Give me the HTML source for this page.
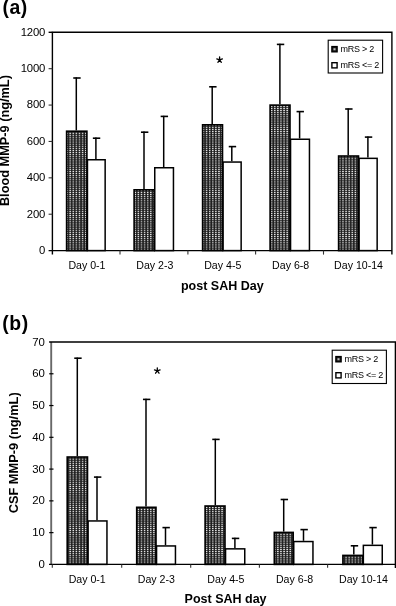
<!DOCTYPE html>
<html><head><meta charset="utf-8"><title>chart</title>
<style>html,body{margin:0;padding:0;background:#fff;}body{width:396px;height:606px;overflow:hidden;}svg{display:block;will-change:transform;filter:grayscale(1);}text{font-family:"Liberation Sans",sans-serif;fill:#000;}</style>
</head><body>
<svg width="396" height="606" viewBox="0 0 396 606">
<defs>
<pattern id="dots" x="0.4" y="0.3" width="3.1" height="2.1" patternUnits="userSpaceOnUse"><rect x="0" y="0" width="3.1" height="2.1" fill="#1e1e1e"/><rect x="0.8" y="0.55" width="1.6" height="1.0" fill="#f0f0f0"/></pattern>
</defs>
<rect x="0" y="0" width="396" height="606" fill="#fff"/>
<line x1="76.30" y1="77.40" x2="76.30" y2="130.40" stroke="#000" stroke-width="1.5"/>
<line x1="73.25" y1="78.00" x2="80.65" y2="78.00" stroke="#000" stroke-width="1.6"/>
<line x1="95.90" y1="137.60" x2="95.90" y2="159.00" stroke="#000" stroke-width="1.5"/>
<line x1="92.85" y1="138.20" x2="100.25" y2="138.20" stroke="#000" stroke-width="1.6"/>
<rect x="87.45" y="159.75" width="17.70" height="90.85" fill="#fff" stroke="#000" stroke-width="1.5"/>
<rect x="66.60" y="131.20" width="20.30" height="119.40" fill="url(#dots)" stroke="#000" stroke-width="1.6"/>
<line x1="144.00" y1="131.60" x2="144.00" y2="189.00" stroke="#000" stroke-width="1.5"/>
<line x1="140.95" y1="132.20" x2="148.35" y2="132.20" stroke="#000" stroke-width="1.6"/>
<line x1="163.70" y1="115.80" x2="163.70" y2="167.00" stroke="#000" stroke-width="1.5"/>
<line x1="160.65" y1="116.40" x2="168.05" y2="116.40" stroke="#000" stroke-width="1.6"/>
<rect x="154.75" y="167.75" width="18.70" height="82.85" fill="#fff" stroke="#000" stroke-width="1.5"/>
<rect x="134.10" y="189.80" width="20.10" height="60.80" fill="url(#dots)" stroke="#000" stroke-width="1.6"/>
<line x1="212.20" y1="86.20" x2="212.20" y2="124.00" stroke="#000" stroke-width="1.5"/>
<line x1="209.15" y1="86.80" x2="216.55" y2="86.80" stroke="#000" stroke-width="1.6"/>
<line x1="231.80" y1="146.00" x2="231.80" y2="161.30" stroke="#000" stroke-width="1.5"/>
<line x1="228.75" y1="146.60" x2="236.15" y2="146.60" stroke="#000" stroke-width="1.6"/>
<rect x="223.05" y="162.05" width="18.10" height="88.55" fill="#fff" stroke="#000" stroke-width="1.5"/>
<rect x="202.60" y="124.80" width="19.90" height="125.80" fill="url(#dots)" stroke="#000" stroke-width="1.6"/>
<line x1="279.90" y1="43.80" x2="279.90" y2="104.30" stroke="#000" stroke-width="1.5"/>
<line x1="276.85" y1="44.40" x2="284.25" y2="44.40" stroke="#000" stroke-width="1.6"/>
<line x1="299.60" y1="111.00" x2="299.60" y2="138.50" stroke="#000" stroke-width="1.5"/>
<line x1="296.55" y1="111.60" x2="303.95" y2="111.60" stroke="#000" stroke-width="1.6"/>
<rect x="290.55" y="139.25" width="18.90" height="111.35" fill="#fff" stroke="#000" stroke-width="1.5"/>
<rect x="270.10" y="105.10" width="19.90" height="145.50" fill="url(#dots)" stroke="#000" stroke-width="1.6"/>
<line x1="348.20" y1="108.40" x2="348.20" y2="155.20" stroke="#000" stroke-width="1.5"/>
<line x1="345.15" y1="109.00" x2="352.55" y2="109.00" stroke="#000" stroke-width="1.6"/>
<line x1="367.90" y1="136.50" x2="367.90" y2="157.60" stroke="#000" stroke-width="1.5"/>
<line x1="364.85" y1="137.10" x2="372.25" y2="137.10" stroke="#000" stroke-width="1.6"/>
<rect x="359.05" y="158.35" width="18.10" height="92.25" fill="#fff" stroke="#000" stroke-width="1.5"/>
<rect x="338.60" y="156.00" width="19.90" height="94.60" fill="url(#dots)" stroke="#000" stroke-width="1.6"/>
<path d="M52.4 254.6 V32.3 H391.9 V254.6" fill="none" stroke="#000" stroke-width="1.4"/>
<line x1="48.60" y1="250.60" x2="391.90" y2="250.60" stroke="#000" stroke-width="1.4"/>
<text x="45.2" y="254.00" font-size="11.3" letter-spacing="-0.15" text-anchor="end">0</text>
<line x1="48.60" y1="214.22" x2="52.40" y2="214.22" stroke="#333" stroke-width="1.1"/>
<text x="45.2" y="217.62" font-size="11.3" letter-spacing="-0.15" text-anchor="end">200</text>
<line x1="48.60" y1="177.83" x2="52.40" y2="177.83" stroke="#333" stroke-width="1.1"/>
<text x="45.2" y="181.23" font-size="11.3" letter-spacing="-0.15" text-anchor="end">400</text>
<line x1="48.60" y1="141.45" x2="52.40" y2="141.45" stroke="#333" stroke-width="1.1"/>
<text x="45.2" y="144.85" font-size="11.3" letter-spacing="-0.15" text-anchor="end">600</text>
<line x1="48.60" y1="105.07" x2="52.40" y2="105.07" stroke="#333" stroke-width="1.1"/>
<text x="45.2" y="108.47" font-size="11.3" letter-spacing="-0.15" text-anchor="end">800</text>
<line x1="48.60" y1="68.68" x2="52.40" y2="68.68" stroke="#333" stroke-width="1.1"/>
<text x="45.2" y="72.08" font-size="11.3" letter-spacing="-0.15" text-anchor="end">1000</text>
<line x1="48.60" y1="32.30" x2="52.40" y2="32.30" stroke="#000" stroke-width="1.4"/>
<text x="45.2" y="35.70" font-size="11.3" letter-spacing="-0.15" text-anchor="end">1200</text>
<line x1="120.00" y1="250.60" x2="120.00" y2="254.60" stroke="#333" stroke-width="1.1"/>
<line x1="187.90" y1="250.60" x2="187.90" y2="254.60" stroke="#333" stroke-width="1.1"/>
<line x1="255.60" y1="250.60" x2="255.60" y2="254.60" stroke="#333" stroke-width="1.1"/>
<line x1="323.50" y1="250.60" x2="323.50" y2="254.60" stroke="#333" stroke-width="1.1"/>
<text x="86.95" y="268.5" font-size="10.6" text-anchor="middle">Day 0-1</text>
<text x="154.85" y="268.5" font-size="10.6" text-anchor="middle">Day 2-3</text>
<text x="222.75" y="268.5" font-size="10.6" text-anchor="middle">Day 4-5</text>
<text x="290.65" y="268.5" font-size="10.6" text-anchor="middle">Day 6-8</text>
<text x="358.55" y="268.5" font-size="10.6" text-anchor="middle">Day 10-14</text>
<text x="222.3" y="290.3" font-size="12.5" font-weight="bold" text-anchor="middle">post SAH Day</text>
<text transform="translate(9.1,140.6) rotate(-90)" font-size="12.75" font-weight="bold" text-anchor="middle">Blood MMP-9 (ng/mL)</text>
<text x="2.4" y="14.0" font-size="19.4" font-weight="bold" letter-spacing="0.6">(a)</text>
<path d="M219.60 59.90L219.60 56.95M219.60 59.90L222.41 58.99M219.60 59.90L221.33 62.29M219.60 59.90L217.87 62.29M219.60 59.90L216.79 58.99" stroke="#000" stroke-width="1.3" fill="none" stroke-linecap="round"/>
<rect x="328.2" y="40.2" width="54.4" height="32.8" fill="#fff" stroke="#000" stroke-width="1.1"/>
<rect x="331.9" y="46.6" width="5.2" height="5.2" fill="#222" stroke="#000" stroke-width="1.4"/>
<rect x="333.5" y="48.2" width="2" height="2" fill="#bbb"/>
<rect x="331.9" y="62.7" width="5.2" height="5.2" fill="#fff" stroke="#000" stroke-width="1.4"/>
<text x="340.59999999999997" y="52.1" font-size="9" letter-spacing="-0.25">mRS &gt; 2</text>
<text x="340.59999999999997" y="68.2" font-size="9" letter-spacing="-0.25">mRS &lt;= 2</text>
<line x1="77.30" y1="357.60" x2="77.30" y2="456.20" stroke="#000" stroke-width="1.5"/>
<line x1="74.25" y1="358.20" x2="81.65" y2="358.20" stroke="#000" stroke-width="1.6"/>
<line x1="97.00" y1="476.50" x2="97.00" y2="520.20" stroke="#000" stroke-width="1.5"/>
<line x1="93.95" y1="477.10" x2="101.35" y2="477.10" stroke="#000" stroke-width="1.6"/>
<rect x="88.05" y="520.95" width="18.90" height="43.45" fill="#fff" stroke="#000" stroke-width="1.5"/>
<rect x="67.20" y="457.00" width="20.30" height="107.40" fill="url(#dots)" stroke="#000" stroke-width="1.6"/>
<line x1="146.00" y1="398.80" x2="146.00" y2="506.50" stroke="#000" stroke-width="1.5"/>
<line x1="142.95" y1="399.40" x2="150.35" y2="399.40" stroke="#000" stroke-width="1.6"/>
<line x1="165.50" y1="527.00" x2="165.50" y2="545.20" stroke="#000" stroke-width="1.5"/>
<line x1="162.45" y1="527.60" x2="169.85" y2="527.60" stroke="#000" stroke-width="1.6"/>
<rect x="156.55" y="545.95" width="18.90" height="18.45" fill="#fff" stroke="#000" stroke-width="1.5"/>
<rect x="136.70" y="507.30" width="19.30" height="57.10" fill="url(#dots)" stroke="#000" stroke-width="1.6"/>
<line x1="215.30" y1="438.80" x2="215.30" y2="505.20" stroke="#000" stroke-width="1.5"/>
<line x1="212.25" y1="439.40" x2="219.65" y2="439.40" stroke="#000" stroke-width="1.6"/>
<line x1="234.90" y1="537.80" x2="234.90" y2="548.10" stroke="#000" stroke-width="1.5"/>
<line x1="231.85" y1="538.40" x2="239.25" y2="538.40" stroke="#000" stroke-width="1.6"/>
<rect x="225.55" y="548.85" width="19.20" height="15.55" fill="#fff" stroke="#000" stroke-width="1.5"/>
<rect x="205.10" y="506.00" width="19.90" height="58.40" fill="url(#dots)" stroke="#000" stroke-width="1.6"/>
<line x1="283.70" y1="498.90" x2="283.70" y2="531.60" stroke="#000" stroke-width="1.5"/>
<line x1="280.65" y1="499.50" x2="288.05" y2="499.50" stroke="#000" stroke-width="1.6"/>
<line x1="303.50" y1="529.00" x2="303.50" y2="540.80" stroke="#000" stroke-width="1.5"/>
<line x1="300.45" y1="529.60" x2="307.85" y2="529.60" stroke="#000" stroke-width="1.6"/>
<rect x="293.75" y="541.55" width="19.20" height="22.85" fill="#fff" stroke="#000" stroke-width="1.5"/>
<rect x="274.30" y="532.40" width="18.90" height="32.00" fill="url(#dots)" stroke="#000" stroke-width="1.6"/>
<line x1="353.80" y1="545.20" x2="353.80" y2="554.60" stroke="#000" stroke-width="1.5"/>
<line x1="350.75" y1="545.80" x2="358.15" y2="545.80" stroke="#000" stroke-width="1.6"/>
<line x1="372.40" y1="527.00" x2="372.40" y2="544.60" stroke="#000" stroke-width="1.5"/>
<line x1="369.35" y1="527.60" x2="376.75" y2="527.60" stroke="#000" stroke-width="1.6"/>
<rect x="363.35" y="545.35" width="18.90" height="19.05" fill="#fff" stroke="#000" stroke-width="1.5"/>
<rect x="342.90" y="555.40" width="19.90" height="9.00" fill="url(#dots)" stroke="#000" stroke-width="1.6"/>
<line x1="51.20" y1="342.00" x2="51.20" y2="564.40" stroke="#686868" stroke-width="1.9"/>
<path d="M49.1 342.0 H395.4 V567.9" fill="none" stroke="#000" stroke-width="1.4"/>
<line x1="49.00" y1="564.40" x2="395.40" y2="564.40" stroke="#000" stroke-width="1.4"/>
<text x="44.9" y="567.90" font-size="11.4" text-anchor="end">0</text>
<line x1="49.20" y1="532.63" x2="53.50" y2="532.63" stroke="#000" stroke-width="1.2"/>
<text x="44.9" y="536.13" font-size="11.4" text-anchor="end">10</text>
<line x1="49.20" y1="500.86" x2="53.50" y2="500.86" stroke="#000" stroke-width="1.2"/>
<text x="44.9" y="504.36" font-size="11.4" text-anchor="end">20</text>
<line x1="49.20" y1="469.09" x2="53.50" y2="469.09" stroke="#000" stroke-width="1.2"/>
<text x="44.9" y="472.59" font-size="11.4" text-anchor="end">30</text>
<line x1="49.20" y1="437.31" x2="53.50" y2="437.31" stroke="#000" stroke-width="1.2"/>
<text x="44.9" y="440.81" font-size="11.4" text-anchor="end">40</text>
<line x1="49.20" y1="405.54" x2="53.50" y2="405.54" stroke="#000" stroke-width="1.2"/>
<text x="44.9" y="409.04" font-size="11.4" text-anchor="end">50</text>
<line x1="49.20" y1="373.77" x2="53.50" y2="373.77" stroke="#000" stroke-width="1.2"/>
<text x="44.9" y="377.27" font-size="11.4" text-anchor="end">60</text>
<text x="44.9" y="345.50" font-size="11.4" text-anchor="end">70</text>
<line x1="52.30" y1="564.40" x2="52.30" y2="567.70" stroke="#333" stroke-width="1.1"/>
<line x1="121.70" y1="564.40" x2="121.70" y2="567.70" stroke="#333" stroke-width="1.1"/>
<line x1="190.70" y1="564.40" x2="190.70" y2="567.70" stroke="#333" stroke-width="1.1"/>
<line x1="259.40" y1="564.40" x2="259.40" y2="567.70" stroke="#333" stroke-width="1.1"/>
<line x1="327.60" y1="564.40" x2="327.60" y2="567.70" stroke="#333" stroke-width="1.1"/>
<text x="87.20" y="582.6" font-size="10.6" text-anchor="middle">Day 0-1</text>
<text x="156.30" y="582.6" font-size="10.6" text-anchor="middle">Day 2-3</text>
<text x="225.90" y="582.6" font-size="10.6" text-anchor="middle">Day 4-5</text>
<text x="294.50" y="582.6" font-size="10.6" text-anchor="middle">Day 6-8</text>
<text x="363.50" y="582.6" font-size="10.6" text-anchor="middle">Day 10-14</text>
<text x="225.6" y="603" font-size="12.5" font-weight="bold" text-anchor="middle">Post SAH day</text>
<text transform="translate(18.2,452.85) rotate(-90)" font-size="12.82" font-weight="bold" text-anchor="middle">CSF MMP-9 (ng/mL)</text>
<text x="2.2" y="329.5" font-size="19.4" font-weight="bold" letter-spacing="0.6">(b)</text>
<path d="M157.30 370.80L157.30 367.85M157.30 370.80L160.11 369.89M157.30 370.80L159.03 373.19M157.30 370.80L155.57 373.19M157.30 370.80L154.49 369.89" stroke="#000" stroke-width="1.3" fill="none" stroke-linecap="round"/>
<rect x="332.2" y="350.2" width="54.2" height="33.3" fill="#fff" stroke="#000" stroke-width="1.1"/>
<rect x="335.9" y="356.59999999999997" width="5.2" height="5.2" fill="#222" stroke="#000" stroke-width="1.4"/>
<rect x="337.5" y="358.2" width="2" height="2" fill="#bbb"/>
<rect x="335.9" y="372.7" width="5.2" height="5.2" fill="#fff" stroke="#000" stroke-width="1.4"/>
<text x="344.59999999999997" y="362.09999999999997" font-size="9" letter-spacing="-0.25">mRS &gt; 2</text>
<text x="344.59999999999997" y="378.2" font-size="9" letter-spacing="-0.25">mRS &lt;= 2</text>
</svg></body></html>
